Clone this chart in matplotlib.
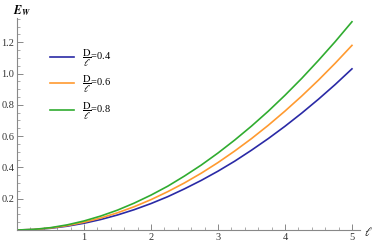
import matplotlib
matplotlib.use("Agg")
import matplotlib.pyplot as plt
import numpy as np

plt.rcParams["font.family"] = "Liberation Serif"
plt.rcParams["mathtext.fontset"] = "stix"

ell = [0, 0.25, 0.5, 0.75, 1, 1.25, 1.5, 1.75, 2, 2.25, 2.5, 2.75, 3,
       3.25, 3.5, 3.75, 4, 4.25, 4.5, 4.75, 5]
ew_04 = [0, 0.003, 0.011, 0.0245, 0.0432, 0.0671, 0.096, 0.130, 0.169, 0.213,
         0.263, 0.317, 0.376, 0.440, 0.510, 0.584, 0.663, 0.747, 0.836, 0.930, 1.030]
ew_06 = [0, 0.0032, 0.0126, 0.0281, 0.0495, 0.0768, 0.110, 0.149, 0.194, 0.245,
         0.301, 0.363, 0.431, 0.505, 0.584, 0.669, 0.760, 0.856, 0.958, 1.066, 1.18]
ew_08 = [0, 0.0039, 0.0149, 0.0329, 0.0577, 0.0892, 0.127, 0.172, 0.223, 0.280,
         0.345, 0.415, 0.492, 0.575, 0.664, 0.759, 0.861, 0.969, 1.084, 1.204, 1.331]
ratios = ["0.4", "0.6", "0.8"]
colors = ["#2a2aa6", "#ff9a30", "#30ac30"]

W, H = 374, 246
fig = plt.figure(figsize=(W/100, H/100), dpi=100)
ax = fig.add_axes([17/W, (H-230)/H, (360-17)/W, (230-18)/H])

for y, r, c in zip([ew_04, ew_06, ew_08], ratios, colors):
    ax.plot(ell, y, color=c, lw=1.2, label=r"$\dfrac{\mathrm{D}}{\ell}$=" + r)

ax.set_xlim(0, 5.12)
ax.set_ylim(0, 1.355)
for s in ["top", "right"]:
    ax.spines[s].set_visible(False)
for s in ["left", "bottom"]:
    ax.spines[s].set_color("#888888")
    ax.spines[s].set_linewidth(0.8)

ax.set_xticks([1, 2, 3, 4, 5])
ax.set_xticks(np.arange(0, 5.01, 0.2), minor=True)
ax.set_yticks([0.2, 0.4, 0.6, 0.8, 1.0, 1.2])
ax.set_yticks(np.arange(0, 1.351, 0.05), minor=True)
ax.tick_params(which="both", direction="in", color="#888888", labelsize=7.5,
               labelcolor="#333333", pad=2)
ax.tick_params(which="major", length=4, width=0.7)
ax.tick_params(which="minor", length=2, width=0.5)

fig.text(13/W, 1 - 11/H, r"$\mathbfit{E}_{\mathbfit{W}}$", fontsize=8.5, va="center")
fig.text(364/W, 1 - 232/H, r"$\ell$", fontsize=8.5, va="center")

ax.legend(loc="upper left", bbox_to_anchor=(0.07, 0.905), frameon=False,
          handlelength=2.3, labelspacing=0.52, fontsize=7.5, handletextpad=0.7)

fig.savefig("out.png", dpi=100)
